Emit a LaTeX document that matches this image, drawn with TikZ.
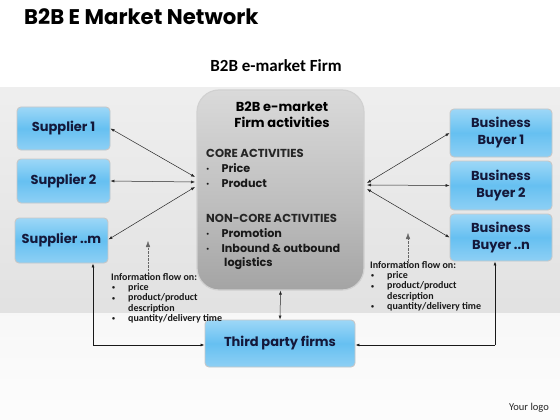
\documentclass[tikz,border=0pt]{standalone}
\usepackage{fontspec}
\setmainfont{Carlito}
\newfontfamily\geo{Poppins}
\usetikzlibrary{arrows.meta,calc}
\definecolor{btop}{HTML}{E4F5FD}
\definecolor{bup}{HTML}{A8DCF8}
\definecolor{bmid}{HTML}{66C0F1}
\definecolor{blow}{HTML}{9ED6F6}
\definecolor{bbot}{HTML}{DDF2FC}
\definecolor{navy}{HTML}{14183A}
\pgfdeclareverticalshading{bluebox}{100bp}{
  color(0bp)=(bbot);
  color(15bp)=(blow);
  color(50bp)=(bmid);
  color(80bp)=(bup);
  color(100bp)=(btop)}
\pgfdeclareverticalshading{graybox}{100bp}{
  color(0bp)=(black!48);
  color(45bp)=(black!26);
  color(100bp)=(black!5)}
\pgfdeclareverticalshading{band}{100bp}{
  color(0bp)=(black!14);
  color(100bp)=(black!4)}
\pgfdeclareverticalshading{lowband}{100bp}{
  color(0bp)=(white);
  color(100bp)=(black!4)}
\newcommand{\smb}{\raisebox{0.15ex}{\scalebox{0.6}{\textbullet}}}
\tikzset{
  bbox/.style={draw=black!22, line width=0.9pt, rounded corners=4pt, shading=bluebox,
    minimum width=#1, align=center, text=navy, font=\geo\bfseries\fontsize{13}{16}\selectfont},
  bbox/.default=93pt,
  conn/.style={{Latex[length=4pt,width=3pt]}-{Latex[length=4pt,width=3pt]}, line width=0.5pt, black!85},
  oneway/.style={-{Latex[length=4pt,width=3pt]}, line width=0.7pt, black!90},
  dotarr/.style={-{Latex[length=6pt,width=4.5pt]}, line width=0.4pt, black!60, densely dotted},
  info/.style={anchor=north west, align=left, font=\bfseries\fontsize{10}{10.3}\selectfont, inner sep=0pt, text=black!90},
  ctext/.style={anchor=west, inner sep=0pt, font=\geo\bfseries\fontsize{11.2}{13}\selectfont, text=black!90},
  chead/.style={anchor=west, inner sep=0pt, font=\geo\fontsize{11.6}{13}\selectfont\bfseries, text=black!85}
}
\begin{document}
\begin{tikzpicture}[x=1pt,y=-1pt]
\useasboundingbox (0,0) rectangle (560,420);
\fill[white] (0,0) rectangle (560,420);
\shade[shading=lowband] (0,312) rectangle (560,420);
\shade[shading=band] (0,88) rectangle (560,312);
% titles
\node[anchor=west, inner sep=0pt, font=\geo\bfseries\fontsize{21.2}{23}\selectfont] (title) at (24,17) {B2B E Market Network};
\node[inner sep=0pt, font=\bfseries\fontsize{17}{19}\selectfont] (sub) at (276,66) {B2B e-market Firm};
% central box
\node[draw=black!18, line width=1.2pt, rounded corners=22pt, shading=graybox, minimum width=167pt, minimum height=200pt] (core) at (280.5,190) {};
\node[align=center, inner sep=0pt, font=\geo\bfseries\fontsize{13}{16}\selectfont] (ctitle) at (282,115) {B2B e-market\\Firm activities};
\node[chead] (core1) at (206,153) {CORE ACTIVITIES};
\node[ctext] (c1) at (206,168) {\smb\hspace{12pt}Price};
\node[ctext] (c2) at (206,183) {\smb\hspace{12pt}Product};
\node[chead] (ncore) at (206,218) {NON-CORE ACTIVITIES};
\node[ctext] (n1) at (206,233) {\smb\hspace{12pt}Promotion};
\node[ctext] (n2) at (206,248.5) {\smb\hspace{12pt}Inbound \& outbound};
\node[ctext] (n3) at (224,264) {logistics};
% suppliers
\node[bbox, minimum height=43pt] (s1) at (63.5,128.5) {Supplier 1};
\node[bbox, minimum height=44pt] (s2) at (63.5,181) {Supplier 2};
\node[bbox, minimum height=45pt] (sm) at (61.5,240.5) {Supplier ..m};
% buyers
\node[bbox=102pt, minimum height=48pt, font=\geo\bfseries\fontsize{13}{17}\selectfont] (b1) at (501,133) {Business\\Buyer 1};
\node[bbox=102pt, minimum height=49pt, font=\geo\bfseries\fontsize{13}{17}\selectfont] (b2) at (501,185.5) {Business\\Buyer 2};
\node[bbox=102pt, minimum height=47pt, font=\geo\bfseries\fontsize{13}{17}\selectfont] (bn) at (501,237.5) {Business\\Buyer ..n};
% third party
\node[bbox=150pt, minimum height=47pt] (tp) at (280,343.5) {Third party firms};
% converging coordinates
\coordinate (l1) at (195,177);
\coordinate (l2) at (195,182);
\coordinate (l3) at (195,187);
\coordinate (r1) at (367,183);
\coordinate (r2) at (367,185);
\coordinate (r3) at (367,189);
\draw[conn] (s1.east) -- (l1);
\draw[conn] (s2.east) -- (l2);
\draw[conn] ([yshift=1pt]sm.east) -- (l3);
\draw[conn] (r1) -- (b1.west);
\draw[conn] (r2) -- (b2.west);
\draw[conn] (r3) -- (bn.west);
\draw[conn] (core.south) -- (tp.north);
% loops
\coordinate (ll) at (93,345);
\coordinate (rl) at (495,345);
\draw[oneway] (ll) -- (sm.south -| ll);
\draw[oneway] (ll) -- (tp.west |- ll);
\draw[oneway] (rl) -- (bn.south -| rl);
\draw[oneway] (rl) -- (tp.east |- rl);
% info text
\coordinate (ia) at (148,272);
\coordinate (ib) at (148,241);
\draw[dotarr] (ia) -- (ib);
\coordinate (ic) at (408,262);
\coordinate (id) at (408,233);
\draw[dotarr] (ic) -- (id);
\node[info] (infol) at (111,273) {Information flow on:\\
\hspace{1pt}\smb\hspace{13pt}price\\
\hspace{1pt}\smb\hspace{13pt}product/product\\
\hspace{1pt}\phantom{\smb}\hspace{13pt}description\\
\hspace{1pt}\smb\hspace{13pt}quantity/delivery time};
\node[info] (infor) at (370,261) {Information flow on:\\
\hspace{1pt}\smb\hspace{13pt}price\\
\hspace{1pt}\smb\hspace{13pt}product/product\\
\hspace{1pt}\phantom{\smb}\hspace{13pt}description\\
\hspace{1pt}\smb\hspace{13pt}quantity/delivery time};
\node[font=\fontsize{10.5}{12}\selectfont, text=black!85] (logo) at (529,408) {Your logo};
\end{tikzpicture}
\end{document}
